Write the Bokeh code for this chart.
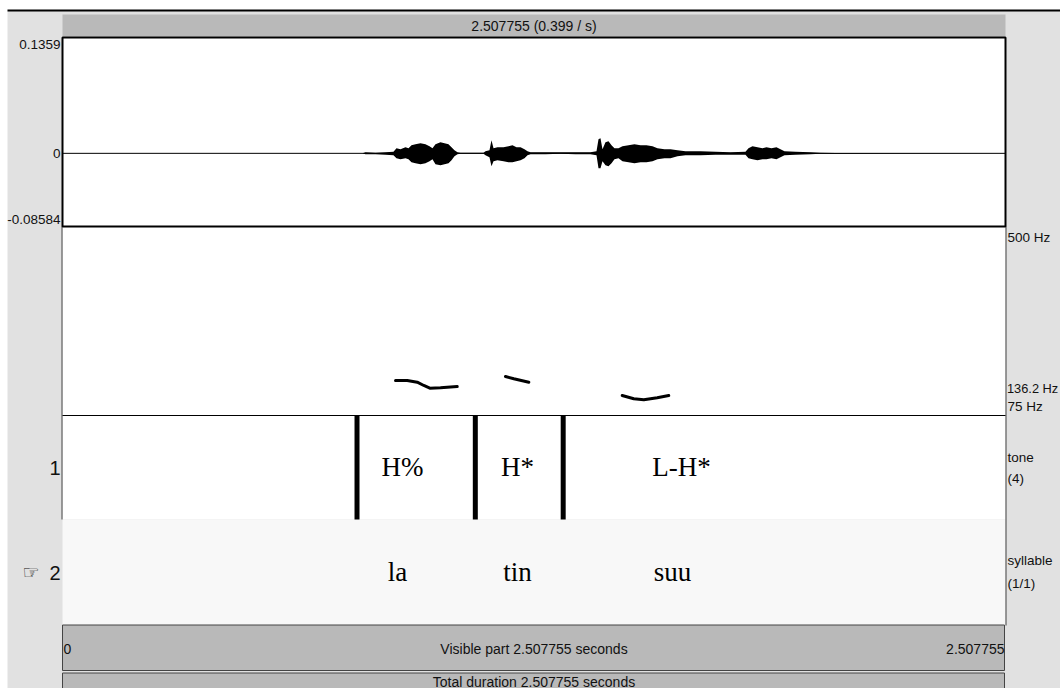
from bokeh.plotting import figure
from bokeh.models import Range1d
from bokeh.embed import file_html
from bokeh.resources import INLINE
from bokeh.core.properties import value

# ---- sound and annotation values ----
DURATION = 2.507755          # seconds
AMP_TOP = 0.1359             # waveform range
AMP_BOTTOM = -0.08584
PITCH_TOP = 500.0            # pitch range, Hz
PITCH_BOTTOM = 75.0
PITCH_MARK = 136.2

# waveform envelope: time (s), upper / lower amplitude (x 1e-3)
wave_time = [0.0, 0.7978, 0.8058, 0.8324, 0.8590, 0.8802, 0.8882, 0.8988, 0.9121, 0.9201,
             0.9281, 0.9387, 0.9520, 0.9653, 0.9760, 0.9839, 0.9919, 1.0052, 1.0159, 1.0265,
             1.0345, 1.0424, 1.0504, 1.0584, 1.1196, 1.1249, 1.1355, 1.1408, 1.1462, 1.1568,
             1.1728, 1.1860, 1.1967, 1.2073, 1.2180, 1.2286, 1.2366, 1.2446, 1.2844, 1.3243,
             1.3642, 1.4041, 1.4201, 1.4254, 1.4307, 1.4360, 1.4440, 1.4520, 1.4600, 1.4679,
             1.4786, 1.4892, 1.5052, 1.5211, 1.5371, 1.5530, 1.5690, 1.5823, 1.6009, 1.6169,
             1.6355, 1.6567, 1.6966, 1.7365, 1.7764, 1.8163, 1.8243, 1.8349, 1.8482, 1.8615,
             1.8721, 1.8854, 1.8987, 1.9094, 1.9200, 1.9493, 1.9892, 2.0157, 2.0556, 2.507755]
wave_upper_milli = [0, 0, 1.17, 0.59, 1.17, 1.76, 5.87, 4.69, 7.04, 5.87,
                    9.38, 10.56, 11.73, 10.56, 8.21, 5.87, 10.56, 12.9, 11.73, 10.56,
                    7.04, 3.52, 1.17, 0.59, 0.59, 2.35, 3.52, 15.25, 5.87, 7.04,
                    7.04, 8.21, 9.38, 7.04, 7.04, 4.69, 2.35, 1.17, 1.17, 1.17,
                    1.17, 1.17, 2.35, 16.42, 17.6, 4.69, 12.9, 14.08, 9.38, 5.87,
                    5.87, 8.21, 9.38, 10.56, 9.38, 9.38, 8.21, 5.87, 4.69, 4.69,
                    3.52, 2.35, 2.35, 1.76, 1.17, 1.76, 5.87, 8.21, 7.04, 5.87,
                    7.04, 5.87, 7.04, 4.69, 2.35, 1.76, 1.17, 0.59, 0.35, 0]
wave_lower_milli = [0, 0, -1.17, -1.17, -1.76, -2.35, -5.87, -7.04, -5.87, -7.04,
                    -10.56, -11.73, -12.9, -11.73, -9.38, -7.04, -12.9, -14.08, -12.9, -11.73,
                    -8.21, -3.52, -1.17, -0.59, -0.59, -2.35, -4.69, -15.25, -9.38, -8.21,
                    -9.38, -10.56, -10.56, -9.38, -8.21, -5.87, -2.35, -1.17, -1.17, -0.59,
                    -1.17, -1.17, -2.35, -17.6, -17.6, -9.38, -14.08, -15.25, -11.73, -7.04,
                    -5.87, -9.38, -10.56, -11.73, -10.56, -10.56, -9.38, -7.04, -5.87, -5.87,
                    -3.52, -2.35, -2.35, -1.76, -1.76, -1.76, -5.87, -7.04, -8.21, -7.04,
                    -7.04, -5.87, -7.04, -4.69, -2.35, -1.76, -1.17, -0.59, -0.35, 0]

# pitch contour pieces: time (s) and F0 (Hz)
pitch_time = [[0.8856, 0.9167, 0.9433, 0.9608, 0.9768, 1.0052, 1.0497],
              [1.1781, 1.2002, 1.2401],
              [1.4884, 1.5193, 1.5459, 1.5815, 1.6123]]
pitch_hz = [[153.7, 153.7, 149.9, 142.5, 136.4, 137.3, 140.2],
            [162.7, 157.5, 149.9],
            [120.0, 112.6, 110.3, 114.8, 120.0]]

# tier 1 "tone" and tier 2 "syllable"
tone_boundaries = [0.7832, 1.0978, 1.3315]
tone_labels = ["H%", "H*", "L-H*"]
tone_label_times = [0.9042, 1.2100, 1.6461]
syllable_labels = ["la", "tin", "suu"]
syllable_label_times = [0.8909, 1.2100, 1.6222]
tier_names = ["tone", "syllable"]
tier_counts = ["(4)", "(1/1)"]

# ---- editor window geometry (pixels) ----
W, H = 1060, 688
X0, X1 = 62, 1005
WAVE_TOP, WAVE_BOT = 37, 226
PITCH_BOT = 415
TIER1_BOT = 519
TIER2_BOT = 625

sec_per_px = DURATION / (X1 - X0)
amp_per_px = (AMP_TOP - AMP_BOTTOM) / (WAVE_BOT - WAVE_TOP)
hz_per_px = (PITCH_TOP - PITCH_BOTTOM) / (PITCH_BOT - WAVE_BOT)

p = figure(width=W, height=H, output_backend="svg", toolbar_location=None,
           x_range=Range1d(-X0 * sec_per_px, (W - X0) * sec_per_px),
           y_range=Range1d(AMP_BOTTOM - (H - WAVE_BOT) * amp_per_px,
                           AMP_TOP + WAVE_TOP * amp_per_px),
           x_axis_location=None, y_axis_location=None, min_border=0)
p.extra_x_ranges = {"px": Range1d(0, W)}
p.extra_y_ranges = {"px": Range1d(H, 0),
                    "pitch": Range1d(PITCH_BOTTOM - (H - PITCH_BOT) * hz_per_px,
                                     PITCH_TOP + WAVE_BOT * hz_per_px)}
p.outline_line_color = None
p.background_fill_color = "white"
p.border_fill_color = "white"
p.xgrid.visible = False
p.ygrid.visible = False

PX = dict(x_range_name="px", y_range_name="px")
SANS = value("Liberation Sans")
SERIF = value("Liberation Serif")
GREY = "#e1e1e1"
BAR = "#b9b9b9"
EDGE = "#444444"

# window panels
p.quad(left=[7], right=[W], top=[10], bottom=[H], fill_color=GREY, line_color=None, **PX)
p.segment(x0=[7], x1=[W], y0=[10], y1=[10], line_color="black", line_width=2, **PX)
p.quad(left=[X0], right=[X1], top=[14], bottom=[36], fill_color=BAR, line_color=None, **PX)
p.quad(left=[X0], right=[X1], top=[WAVE_BOT], bottom=[TIER1_BOT], fill_color="white",
       line_color=None, **PX)
p.quad(left=[X0], right=[X1], top=[TIER1_BOT], bottom=[TIER2_BOT], fill_color="#f8f8f8",
       line_color=None, **PX)
p.quad(left=[X0], right=[X1 - 1], top=[624.5], bottom=[670], fill_color=BAR,
       line_color=EDGE, line_width=1, **PX)
p.quad(left=[X0], right=[X1 - 1], top=[672.5], bottom=[H + 2], fill_color=BAR,
       line_color=EDGE, line_width=1, **PX)
p.segment(x0=[X0 - 0.5, X1 + 0.5], x1=[X0 - 0.5, X1 + 0.5],
          y0=[WAVE_BOT, WAVE_BOT], y1=[TIER1_BOT, TIER2_BOT], line_color=EDGE, line_width=1, **PX)
p.segment(x0=[X0], x1=[X1], y0=[PITCH_BOT], y1=[PITCH_BOT], line_color="black", line_width=1, **PX)
p.quad(left=[X0], right=[X1], top=[WAVE_TOP], bottom=[WAVE_BOT], fill_color="white",
       line_color="black", line_width=2, **PX)

# waveform
p.varea(x=wave_time, y1=[v * 1e-3 for v in wave_lower_milli],
        y2=[v * 1e-3 for v in wave_upper_milli], fill_color="black")
p.line(x=[0, DURATION], y=[0, 0], line_color="black", line_width=1)

# pitch contour
p.multi_line(xs=pitch_time, ys=pitch_hz, y_range_name="pitch", line_color="black",
             line_width=3, line_join="round", line_cap="round")

# tone tier boundaries
n = len(tone_boundaries)
p.segment(x0=tone_boundaries, x1=tone_boundaries, y0=[PITCH_BOT] * n, y1=[TIER1_BOT] * n,
          y_range_name="px", line_color="black", line_width=5)

# interval labels
tier1_mid = (PITCH_BOT + TIER1_BOT) / 2
tier2_mid = (TIER1_BOT + TIER2_BOT) / 2
p.text(x=tone_label_times, y=[tier1_mid - 1] * len(tone_labels), text=tone_labels,
       y_range_name="px", text_font=SERIF, text_font_size=value("27px"),
       text_align="center", text_baseline="middle", text_color="black")
p.text(x=syllable_label_times, y=[tier2_mid - 1] * len(syllable_labels), text=syllable_labels,
       y_range_name="px", text_font=SERIF, text_font_size=value("27px"),
       text_align="center", text_baseline="middle", text_color="black")

small = dict(text_font=SANS, text_font_size=value("13.5px"), text_color="#111111")

# waveform scale labels
p.text(x=[60], y=[AMP_TOP], text=["0.1359"], x_range_name="px", text_align="right",
       text_baseline="top", y_offset=2, **small)
p.text(x=[60], y=[0], text=["0"], x_range_name="px", text_align="right",
       text_baseline="middle", **small)
p.text(x=[60], y=[AMP_BOTTOM], text=["-0.08584"], x_range_name="px", text_align="right",
       text_baseline="bottom", y_offset=-3, **small)

# pitch scale labels
p.text(x=[1007], y=[PITCH_TOP], text=["500 Hz"], x_range_name="px", y_range_name="pitch",
       text_align="left", text_baseline="top", y_offset=3, **small)
p.text(x=[1006.5], y=[PITCH_MARK], text=[f"{PITCH_MARK} Hz"], x_range_name="px",
       y_range_name="pitch", text_align="left", text_baseline="middle",
       text_font=SANS, text_font_size=value("12.8px"), text_color="#111111")
p.text(x=[1007], y=[PITCH_BOTTOM], text=["75 Hz"], x_range_name="px", y_range_name="pitch",
       text_align="left", text_baseline="bottom", y_offset=-2, **small)

# tier names and numbers
p.text(x=[1007, 1007], y=[457, 478], text=[tier_names[0], tier_counts[0]], text_align="left",
       text_baseline="middle", **PX, **small)
p.text(x=[1007, 1007], y=[560, 583], text=[tier_names[1], tier_counts[1]], text_align="left",
       text_baseline="middle", **PX, **small)
p.text(x=[60, 60], y=[tier1_mid, tier2_mid], text=["1", "2"], text_align="right",
       text_baseline="middle", text_font=SANS, text_font_size=value("20px"),
       text_color="#111111", **PX)
p.text(x=[39], y=[tier2_mid - 1], text=["\u261e"], text_align="right",
       text_baseline="middle", text_font=value("DejaVu Sans"), text_font_size=value("19px"),
       text_color="#111111", **PX)

# time bars
bar = dict(text_font=SANS, text_font_size=value("14px"), text_color="#111111")
p.text(x=[DURATION / 2], y=[25.5], text=[f"{DURATION:.6f} ({1 / DURATION:.3f} / s)"],
       y_range_name="px", text_align="center", text_baseline="middle", **bar)
p.text(x=[0], y=[648], text=["0"], y_range_name="px", text_align="left",
       text_baseline="middle", x_offset=1, **bar)
p.text(x=[DURATION], y=[648], text=[f"{DURATION:.6f}"], y_range_name="px", text_align="right",
       text_baseline="middle", x_offset=-1, **bar)
p.text(x=[DURATION / 2], y=[648], text=[f"Visible part {DURATION:.6f} seconds"],
       y_range_name="px", text_align="center", text_baseline="middle", **bar)
p.text(x=[DURATION / 2], y=[681], text=[f"Total duration {DURATION:.6f} seconds"],
       y_range_name="px", text_align="center", text_baseline="middle", **bar)

open("out.html", "w").write(file_html(p, INLINE))
